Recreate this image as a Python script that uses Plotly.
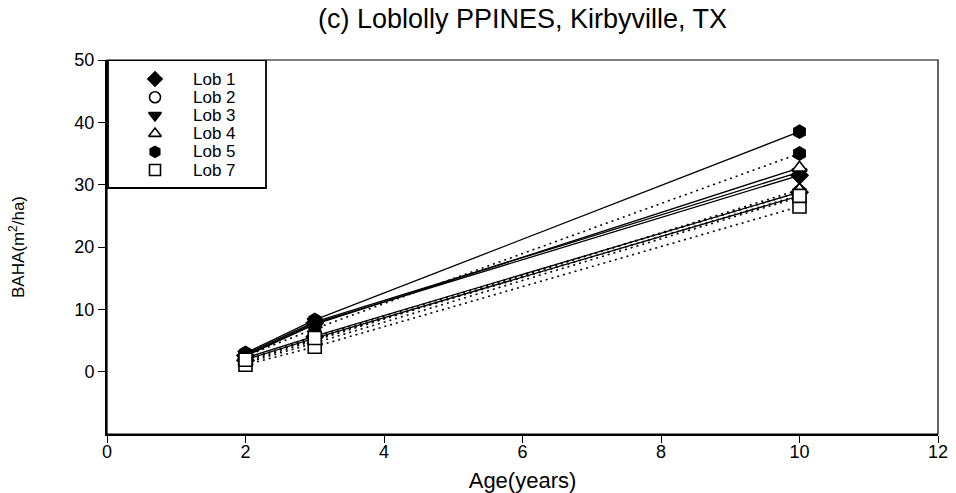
import plotly.graph_objects as go

# Stand age (years) at each measurement
ages = [2, 3, 10]

# Plot labels and their marker symbols
lob_names = ["Lob 1", "Lob 2", "Lob 3", "Lob 4", "Lob 5", "Lob 7"]
lob_symbols = ["diamond", "circle", "triangle-down", "triangle-up", "hexagon", "square"]
lob_filled = [True, False, True, False, True, False]

# Basal area per hectare (m2/ha), solid-line series
baha_solid = {
    "Lob 1": [2.6, 7.8, 31.5],
    "Lob 2": [2.2, 5.7, 28.8],
    "Lob 3": [2.8, 8.0, 32.0],
    "Lob 4": [2.5, 7.6, 32.7],
    "Lob 5": [3.0, 8.3, 38.5],
    "Lob 7": [1.9, 5.4, 28.2],
}

# Basal area per hectare (m2/ha), dotted-line series
baha_dotted = {
    "Lob 1": [1.8, 5.6, 28.8],
    "Lob 2": [1.4, 4.6, 28.0],
    "Lob 3": [1.9, 5.2, 28.3],
    "Lob 4": [1.6, 5.0, 29.2],
    "Lob 5": [2.5, 6.9, 35.0],
    "Lob 7": [1.1, 4.0, 26.5],
}

x_ticks = [0, 2, 4, 6, 8, 10, 12]
y_ticks = [0, 10, 20, 30, 40, 50]

FONT = "Liberation Sans, Arial, sans-serif"

# Plot-area geometry in pixels
W, H = 956, 493
ML, MR, MT, MB = 107, 18, 60, 59
PW, PH = W - ML - MR, H - MT - MB

# Legend box layout (pixels measured from the plot area's top-left corner)
LEG_X0, LEG_X1, LEG_Y0, LEG_Y1 = 1, 159, 0, 128
LEG_SYM_X, LEG_TXT_X = 48, 84
LEG_ROW0, LEG_ROW_STEP = 19, 18.2

fig = go.Figure()


def marker_style(symbol, filled, size=13):
    return dict(
        symbol=symbol,
        size=size,
        color="black" if filled else "white",
        line=dict(color="black", width=1.6),
    )


# Lines first so markers sit on top
for name in lob_names:
    fig.add_trace(go.Scatter(
        x=ages, y=baha_dotted[name], mode="lines",
        line=dict(color="black", width=1.6, dash="2px,4px"),
        showlegend=False, hoverinfo="skip",
    ))
for name in lob_names:
    fig.add_trace(go.Scatter(
        x=ages, y=baha_solid[name], mode="lines",
        line=dict(color="black", width=1.3),
        showlegend=False, hoverinfo="skip",
    ))

# Markers for both series of each plot
for name, sym, filled in zip(lob_names, lob_symbols, lob_filled):
    for vals in (baha_dotted[name], baha_solid[name]):
        fig.add_trace(go.Scatter(
            x=ages, y=vals, mode="markers",
            marker=marker_style(sym, filled),
            name=name, showlegend=False,
        ))

# Boxed key: symbols drawn on a pixel-scaled overlay axis
annotations = []
for i, (name, sym, filled) in enumerate(zip(lob_names, lob_symbols, lob_filled)):
    row_y = LEG_ROW0 + LEG_ROW_STEP * i
    fig.add_trace(go.Scatter(
        x=[LEG_SYM_X], y=[row_y], mode="markers",
        marker=marker_style(sym, filled, size=11),
        xaxis="x2", yaxis="y2", showlegend=False, hoverinfo="skip",
    ))
    annotations.append(dict(
        x=LEG_TXT_X, y=row_y, xref="x2", yref="y2",
        text=name, showarrow=False, xanchor="left", yanchor="middle",
        font=dict(size=17, family=FONT, color="black"),
    ))

fig.update_layout(
    width=W, height=H,
    margin=dict(l=ML, r=MR, t=MT, b=MB),
    paper_bgcolor="white", plot_bgcolor="white",
    font=dict(family=FONT, color="black"),
    title=dict(
        text="(c) Loblolly PPINES, Kirbyville, TX",
        x=(ML + W - MR) / 2 / W, xanchor="center",
        y=1 - 19 / H, yanchor="middle",
        font=dict(size=27, family=FONT, color="black"),
    ),
    showlegend=False,
    xaxis=dict(
        range=[0, 12], tickvals=x_ticks, ticktext=[str(v) for v in x_ticks],
        showgrid=False, zeroline=False, automargin=False,
        showline=True, linecolor="black", linewidth=2,
        ticks="outside", ticklen=7, tickwidth=1.2, tickcolor="black",
        ticklabelstandoff=-7,
        tickfont=dict(size=18, family=FONT),
        title=dict(text="Age(years)", font=dict(size=22, family=FONT), standoff=12),
    ),
    yaxis=dict(
        range=[-10, 50], tickvals=y_ticks, ticktext=[str(v) for v in y_ticks],
        showgrid=False, zeroline=False, automargin=False,
        showline=True, linecolor="black", linewidth=2,
        ticks="outside", ticklen=7, tickwidth=1.2, tickcolor="black",
        tickfont=dict(size=18, family=FONT),
        title=dict(text="BAHA(m<sup>2</sup>/ha)", font=dict(size=17, family=FONT), standoff=45),
    ),
    xaxis2=dict(overlaying="x", range=[0, PW], visible=False, fixedrange=True),
    yaxis2=dict(overlaying="y", range=[PH, 0], visible=False, fixedrange=True),
    annotations=annotations,
    shapes=[
        dict(type="rect", xref="paper", yref="paper", x0=0, y0=0, x1=1, y1=1,
             line=dict(color="black", width=1.2), layer="above"),
        dict(type="rect", xref="x2", yref="y2",
             x0=LEG_X0, x1=LEG_X1, y0=LEG_Y0, y1=LEG_Y1,
             line=dict(color="black", width=1.8), fillcolor="white", layer="below"),
    ],
)

fig.write_html("out.html")
